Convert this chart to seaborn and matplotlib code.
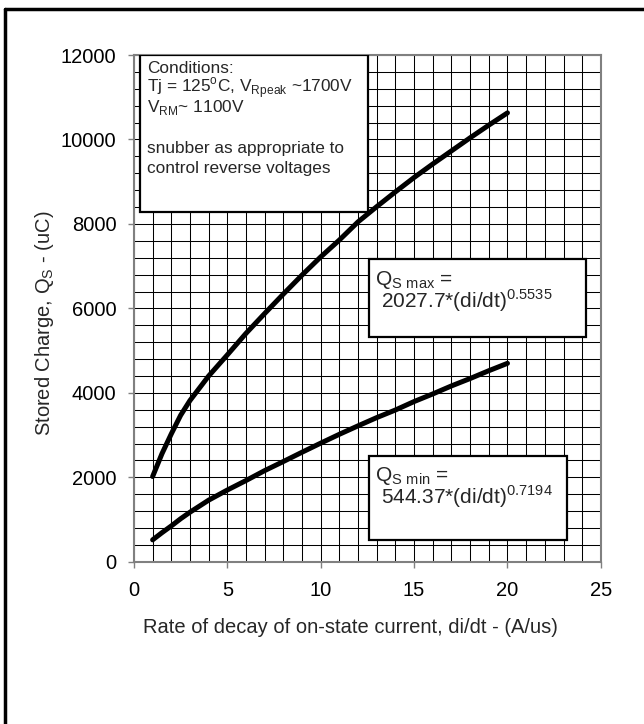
import matplotlib
matplotlib.use("Agg")
import matplotlib.pyplot as plt
from matplotlib.lines import Line2D
from matplotlib.patches import Rectangle
from matplotlib.ticker import MultipleLocator
import pandas as pd
import seaborn as sns

# values
DIDT = [1, 1.5, 2, 2.5, 3, 4, 5, 6, 7, 8, 9, 10, 11, 12, 13, 14, 15, 16, 17, 18, 19, 20]
QS_MAX = [2020, 2560, 3030, 3470, 3820, 4400, 4900, 5410, 5880, 6340, 6790, 7220,
          7620, 8050, 8410, 8760, 9100, 9420, 9730, 10040, 10340, 10630]
QS_MIN = [520, 690, 850, 1020, 1175, 1460, 1700, 1925, 2160, 2375, 2595, 2810,
          3020, 3220, 3415, 3595, 3795, 3975, 4165, 4340, 4525, 4700]

COND_LINES = ["Conditions:",
              "Tj = 125$^{\\mathregular{o}}$C, V$_{\\mathregular{Rpeak}}$ ~1700V",
              "V$_{\\mathregular{RM}}$~ 1100V",
              "snubber as appropriate to",
              "control reverse voltages"]
MAX_LINES = ["Q$_{\\mathregular{S\\ max}}$ =",
             "2027.7*(di/dt)$^{\\mathregular{0.5535}}$"]
MIN_LINES = ["Q$_{\\mathregular{S\\ min}}$ =",
             "544.37*(di/dt)$^{\\mathregular{0.7194}}$"]

sns.set_theme(style="white")
plt.rcParams["font.family"] = ["Liberation Sans", "DejaVu Sans"]
plt.rcParams["mathtext.fontset"] = "custom"
plt.rcParams["mathtext.rm"] = "Liberation Sans"

df = pd.DataFrame({"didt": DIDT, "qmax": QS_MAX, "qmin": QS_MIN})

fig = plt.figure(figsize=(6.44, 7.24), dpi=100)
ax = fig.add_axes([0.208, 0.224, 0.725, 0.700])

sns.lineplot(data=df, x="didt", y="qmax", color="black", lw=3.6, ax=ax, zorder=3)
sns.lineplot(data=df, x="didt", y="qmin", color="black", lw=3.6, ax=ax, zorder=3)

ax.set_xlim(0, 25)
ax.set_ylim(0, 12000)
ax.xaxis.set_major_locator(MultipleLocator(5))
ax.xaxis.set_minor_locator(MultipleLocator(1))
ax.yaxis.set_major_locator(MultipleLocator(2000))
ax.yaxis.set_minor_locator(MultipleLocator(400))
ax.grid(which="both", color="black", lw=0.75)
ax.set_axisbelow(True)
ax.tick_params(which="major", direction="out", length=4.5, width=1, color="#808080",
               labelsize=14.5, labelcolor="black", bottom=True, left=True)
ax.tick_params(axis="x", pad=9)
ax.tick_params(axis="y", pad=8)
ax.tick_params(which="minor", length=0)
for sp in ax.spines.values():
    sp.set_color("#808080")
    sp.set_linewidth(1.5)

ax.set_xlabel("Rate of decay of on-state current, di/dt - (A/us)", fontsize=14.5)
ax.set_ylabel("Stored Charge, Q$_{\\mathregular{S}}$ - (uC)", fontsize=14.5)
ax.xaxis.set_label_coords(0.464, -0.111)
ax.yaxis.set_label_coords(-0.167, 0.47)

# annotation boxes
boxes = [((0.32, 8280), 12.2, 3720), ((12.6, 5330), 11.6, 1840), ((12.6, 520), 10.6, 1990)]
for (x0, y0), w, h in boxes:
    ax.add_patch(Rectangle((x0, y0), w, h, facecolor="white", edgecolor="black",
                           lw=1.6, zorder=4))

cond_y = [11567, 11117, 10640, 9688, 9214]
for txt, y in zip(COND_LINES, cond_y):
    ax.text(0.68, y, txt, fontsize=12.4, va="baseline", ha="left", zorder=5)

for lines, ys in [(MAX_LINES, [6556, 6004]), (MIN_LINES, [1925, 1373])]:
    ax.text(12.92, ys[0], lines[0], fontsize=15, va="baseline", ha="left", zorder=5)
    ax.text(13.22, ys[1], lines[1], fontsize=15, va="baseline", ha="left", zorder=5)

# figure border (left and top edges visible)
fig.add_artist(Line2D([0.0078, 0.0078], [0, 0.9876], color="black", lw=2.5))
fig.add_artist(Line2D([0.0078, 1.0], [0.9876, 0.9876], color="black", lw=2.5))

fig.savefig("out.png", dpi=100)
